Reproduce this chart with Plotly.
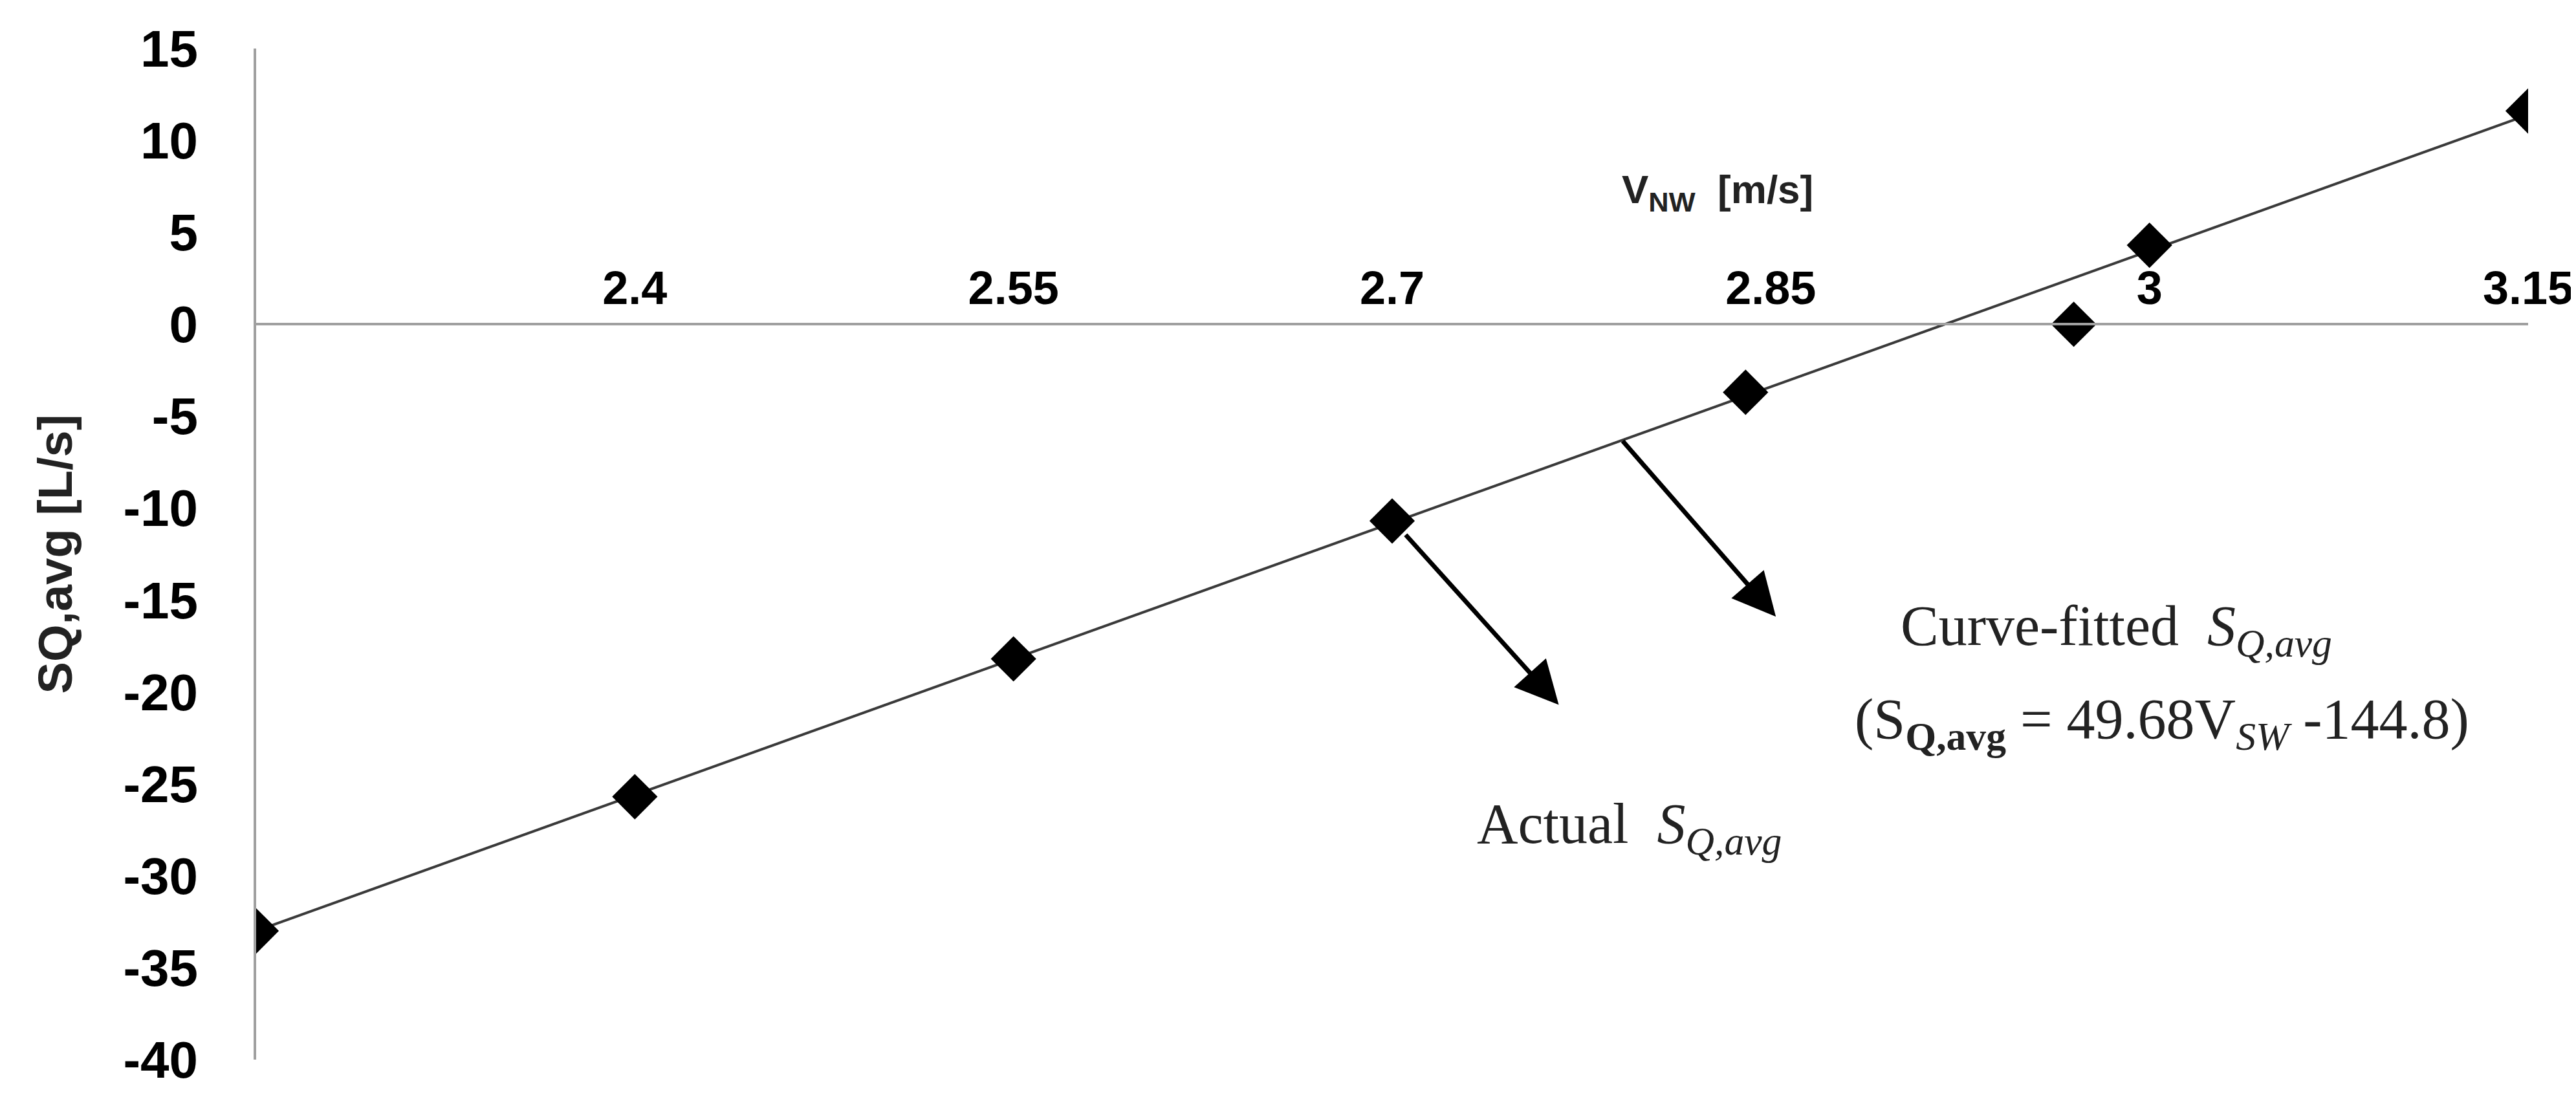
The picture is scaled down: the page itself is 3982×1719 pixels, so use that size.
import plotly.graph_objects as go

# values
v_nw = [2.25, 2.4, 2.55, 2.7, 2.84, 2.97, 3.0, 3.15]
sq_avg = [-33.0, -25.7, -18.2, -10.7, -3.7, 0.0, 4.3, 11.6]

# curve-fitted line end points
fit_x = [2.25, 3.15]
fit_y = [-33.0, 11.4]

x_ticks = [2.4, 2.55, 2.7, 2.85, 3.0, 3.15]
x_tick_text = ['2.4', '2.55', '2.7', '2.85', '3', '3.15']
y_ticks = [-40, -35, -30, -25, -20, -15, -10, -5, 0, 5, 10, 15]
y_tick_text = ['-40', '-35', '-30', '-25', '-20', '-15', '-10', '-5', '0', '5', '10', '15']

sans = 'Liberation Sans Narrow, Liberation Sans, sans-serif'
tick_font = dict(family=sans, size=80, color='black', weight='bold')
serif = dict(family='Liberation Serif, serif', size=88, color='#222222')

fig = go.Figure()
fig.add_trace(go.Scatter(x=fit_x, y=fit_y, mode='lines', line=dict(color='#3a3a3a', width=4), showlegend=False))
fig.add_trace(go.Scatter(x=v_nw, y=sq_avg, mode='markers',
                         marker=dict(symbol='diamond', size=54, color='black'), showlegend=False))

# arrows (head at x/y, tail at ax/ay)
fig.add_annotation(x=2.766, y=-20.7, ax=2.705, ay=-11.4, xref='x', yref='y', axref='x', ayref='y',
                   text='', showarrow=True, arrowhead=2, arrowsize=1.9, arrowwidth=7, arrowcolor='black')
fig.add_annotation(x=2.852, y=-15.9, ax=2.791, ay=-6.3, xref='x', yref='y', axref='x', ayref='y',
                   text='', showarrow=True, arrowhead=2, arrowsize=1.9, arrowwidth=7, arrowcolor='black')

fig.add_annotation(x=2.987, y=-16.6, xref='x', yref='y', showarrow=False, font=serif,
                   text='Curve-fitted  <i>S</i><sub><i>Q,avg</i></sub>')
fig.add_annotation(x=3.005, y=-21.7, xref='x', yref='y', showarrow=False, font=serif,
                   text='(S<sub><b>Q,avg</b></sub> = 49.68V<sub><i>SW</i></sub> -144.8)')
fig.add_annotation(x=2.794, y=-27.4, xref='x', yref='y', showarrow=False, font=serif,
                   text='Actual  <i>S</i><sub><i>Q,avg</i></sub>')

# x axis title sits off-centre, right of the middle
fig.add_annotation(x=2.829, y=7.2, xref='x', yref='y', showarrow=False,
                   font=dict(family=sans, size=62, color='#222222', weight='bold'),
                   text='V<sub>NW</sub>  [m/s]')

fig.update_layout(
    width=3982,
    height=1719,
    margin=dict(l=388, r=82, t=67, b=89),
    plot_bgcolor='white',
    paper_bgcolor='white',
    xaxis=dict(
        range=[2.25, 3.15],
        anchor='free',
        position=40 / 55,  # x axis crosses at y = 0
        side='top',
        showline=True,
        linecolor='#a0a0a0',
        linewidth=4,
        showgrid=False,
        zeroline=False,
        tickvals=x_ticks,
        ticktext=x_tick_text,
        ticks='',
        ticklabeloverflow='allow',
        automargin=False,
        tickfont=dict(family=sans, size=72, color='black', weight='bold'),
    ),
    yaxis=dict(
        range=[-40, 15],
        showline=True,
        linecolor='#a0a0a0',
        linewidth=4,
        showgrid=False,
        zeroline=False,
        tickvals=y_ticks,
        ticktext=y_tick_text,
        ticks='outside',
        ticklen=70,
        tickcolor='rgba(0,0,0,0)',
        tickfont=tick_font,
        title=dict(text='SQ,avg [L/s]', standoff=55,
                   font=dict(family=sans, size=74, color='#222222', weight='bold')),
    ),
)

fig.write_html('out.html')
